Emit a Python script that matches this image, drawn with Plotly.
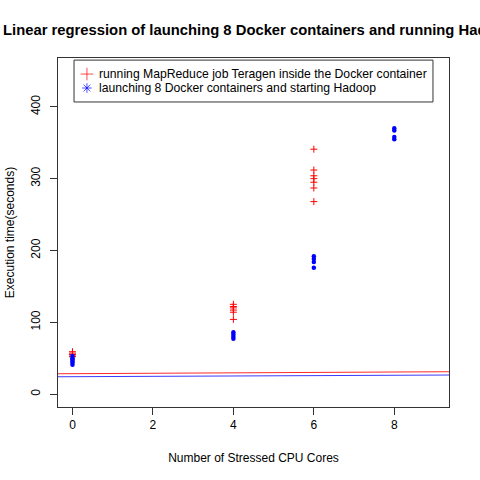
import plotly.graph_objects as go

# Stressed CPU cores and execution times (seconds)
teragen_cores = [0, 0, 0, 0, 0,
                 4, 4, 4, 4, 4, 4,
                 6, 6, 6, 6, 6, 6, 6]
teragen_time = [59, 57, 55, 53, 52,
                125, 122, 120, 117, 114, 104,
                341, 312, 304, 300, 295, 287, 268]

hadoop_cores = [0, 0, 0, 0, 0, 0,
                4, 4, 4, 4,
                6, 6, 6, 6,
                8, 8, 8, 8]
hadoop_time = [53, 50, 48, 46, 44, 41,
               86, 83, 80, 77,
               192, 188, 184, 176,
               370, 367, 358, 355]

# fitted lines (intercept, slope) as drawn by abline
teragen_fit = [28.4, 0.29]
hadoop_fit = [24.2, 0.25]

x_range = [-0.36, 9.36]
y_range = [-18, 468]

legend_names = ["running MapReduce job Teragen inside the Docker container",
                "launching 8 Docker containers and starting Hadoop"]

fig = go.Figure()

# regression lines
for fit, col in [(teragen_fit, "#ff2a2a"), (hadoop_fit, "#3a3aff")]:
    fig.add_trace(go.Scatter(
        x=x_range, y=[fit[0] + fit[1] * v for v in x_range],
        mode="lines", line=dict(color=col, width=1), showlegend=False,
        hoverinfo="skip"))

fig.add_trace(go.Scatter(
    x=teragen_cores, y=teragen_time, mode="markers", showlegend=False,
    marker=dict(symbol="cross-thin-open", size=5, color="red",
                line=dict(color="red", width=1))))
fig.add_trace(go.Scatter(
    x=hadoop_cores, y=hadoop_time, mode="markers", showlegend=False,
    marker=dict(symbol="circle", size=4.5, color="blue",
                line=dict(width=0))))

# R-style legend box: symbols on a hidden 0-1 overlay axis, text as annotations
leg_rows = [0.954, 0.914]
fig.add_trace(go.Scatter(
    x=[0.074, 0.074], y=leg_rows, xaxis="x2", yaxis="y2", mode="markers",
    showlegend=False, hoverinfo="skip",
    marker=dict(symbol=["cross-thin-open", "asterisk-open"], size=[9, 8],
                color=["red", "blue"],
                line=dict(color=["red", "blue"], width=1))))
for name, yy in zip(legend_names, leg_rows):
    fig.add_annotation(text=name, xref="paper", yref="paper", x=0.0997, y=yy,
                       xanchor="left", yanchor="middle", showarrow=False,
                       font=dict(size=12.2, color="black"))
fig.add_shape(type="rect", xref="paper", yref="paper",
              x0=0.041, x1=0.959, y0=0.874, y1=0.994,
              line=dict(color="#333333", width=1), fillcolor="white",
              layer="below")

axis_common = dict(
    showgrid=False, zeroline=False, showline=True, mirror=True,
    linecolor="#333333", linewidth=1, ticks="outside", ticklen=7,
    tickcolor="#333333", tickfont=dict(size=12, color="black"),
    automargin=False,
)

fig.update_layout(
    width=480, height=480,
    paper_bgcolor="white", plot_bgcolor="rgba(0,0,0,0)",
    font=dict(family="Liberation Sans, Arial, sans-serif", size=12, color="black"),
    margin=dict(l=58, r=31, t=58, b=73),
    title=dict(text="<b>Linear regression of launching 8 Docker containers and running Hadoop</b>",
               font=dict(size=14.8, color="black"),
               xref="container", x=3 / 480, xanchor="left",
               yref="container", y=1 - 30 / 480, yanchor="middle"),
    xaxis=dict(range=x_range, tickvals=[0, 2, 4, 6, 8],
               title=dict(text="Number of Stressed CPU Cores", standoff=22,
                          font=dict(size=12, color="black")),
               **axis_common),
    yaxis=dict(range=y_range, tickvals=[0, 100, 200, 300, 400], tickangle=-90,
               ticklabelstandoff=5,
               title=dict(text="Execution time(seconds)", standoff=12,
                          font=dict(size=12, color="black")),
               **axis_common),
    xaxis2=dict(range=[0, 1], overlaying="x", visible=False),
    yaxis2=dict(range=[0, 1], overlaying="y", visible=False),
    showlegend=False,
)

fig.write_html("out.html", config={"displayModeBar": False},
               post_script="document.body.style.margin='0';")
